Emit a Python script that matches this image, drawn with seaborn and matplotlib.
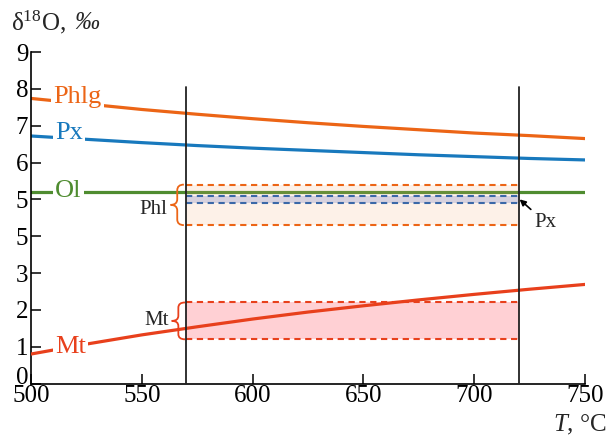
import numpy as np
import pandas as pd
import seaborn as sns
import matplotlib.pyplot as plt
import matplotlib.transforms as mtransforms
from matplotlib.path import Path
from matplotlib.patches import PathPatch

sns.set_style("ticks")
plt.rcParams['font.family'] = ['Liberation Serif', 'DejaVu Serif']
plt.rcParams['mathtext.fontset'] = 'custom'
plt.rcParams['mathtext.rm'] = 'Liberation Serif'
plt.rcParams['mathtext.it'] = 'Liberation Serif:italic'

# temperatures (°C) and delta18O (‰)
temps = [500, 525, 550, 575, 600, 625, 650, 675, 700, 725, 750]
phlg = [7.74, 7.59, 7.44, 7.31, 7.19, 7.08, 6.98, 6.89, 6.80, 6.73, 6.65]
px = [6.72, 6.63, 6.54, 6.46, 6.39, 6.33, 6.27, 6.21, 6.16, 6.11, 6.07]
ol = [5.2] * len(temps)
mt = [0.80, 1.07, 1.32, 1.54, 1.75, 1.94, 2.11, 2.27, 2.42, 2.56, 2.69]

t_range = [570, 720]
phl_band = [4.3, 5.4]
px_band = [4.9, 5.1]
mt_band = [1.2, 2.2]

ytick_vals = [0, 1, 2, 3, 4, 5, 6, 7, 8, 9]
ytick_labels = ['0', '1', '2', '3', '5', '5', '6', '7', '8', '9']
xtick_vals = [500, 550, 600, 650, 700, 750]

c_phlg = '#ec6516'
c_px = '#1879bd'
c_ol = '#4f8c30'
c_mt = '#e8401c'
c_pxband = '#3b68a8'

df = pd.DataFrame({'T': temps, 'Phlg': phlg, 'Px': px, 'Ol': ol, 'Mt': mt})

fig = plt.figure(figsize=(6.1, 4.36), dpi=100)
ax = fig.add_axes([0.0508, 0.1204, 0.9082, 0.7603])

# bands
ax.fill_between(t_range, phl_band[0], phl_band[1], color='#f5a66a', alpha=0.15, lw=0, zorder=3)
ax.fill_between(t_range, px_band[0], px_band[1], color='#5a6fc0', alpha=0.24, lw=0, zorder=3)
ax.fill_between(t_range, mt_band[0], mt_band[1], color='#ff8a95', alpha=0.4, lw=0, zorder=1)
for v in phl_band:
    ax.plot(t_range, [v, v], color=c_phlg, lw=1.5, ls=(0, (3, 2.2)), zorder=4)
for v in px_band:
    ax.plot(t_range, [v, v], color=c_pxband, lw=1.5, ls=(0, (3, 2.2)), zorder=4)
for v in mt_band:
    ax.plot(t_range, [v, v], color=c_mt, lw=1.5, ls=(0, (3, 2.2)), zorder=4)

sns.lineplot(data=df, x='T', y='Phlg', color=c_phlg, lw=2.3, ax=ax, zorder=2)
sns.lineplot(data=df, x='T', y='Px', color=c_px, lw=2.3, ax=ax, zorder=2)
sns.lineplot(data=df, x='T', y='Ol', color=c_ol, lw=2.3, ax=ax, zorder=2)
sns.lineplot(data=df, x='T', y='Mt', color=c_mt, lw=2.3, ax=ax, zorder=5)

for t in t_range:
    ax.plot([t, t], [0, 8.05], color='#222222', lw=1.3, zorder=6)

# series labels with white boxes that break the lines
lab_kw = dict(fontsize=19, va='center', ha='left', zorder=7,
              bbox=dict(facecolor='white', edgecolor='none', pad=1.5))
ax.text(510, 7.77, 'Phlg', color=c_phlg, **lab_kw)
ax.text(511, 6.8, 'Px', color=c_px, **lab_kw)
ax.text(511, 5.22, 'Ol', color=c_ol, **lab_kw)
ax.text(511, 0.98, 'Mt', color=c_mt, **lab_kw)


def brace(x_tip, x_end, y0, y1, color):
    ym = (y0 + y1) / 2
    xm = (x_tip + x_end) / 2
    h = (y1 - y0) * 0.14
    verts = [(x_end, y1), (xm, y1), (xm, y1 - h), (xm, ym + h),
             (xm, ym), (x_tip, ym), (xm, ym), (xm, ym - h),
             (xm, y0 + h), (xm, y0), (x_end, y0)]
    codes = [Path.MOVETO, Path.CURVE3, Path.CURVE3, Path.LINETO,
             Path.CURVE3, Path.CURVE3, Path.CURVE3, Path.CURVE3,
             Path.LINETO, Path.CURVE3, Path.CURVE3]
    ax.add_patch(PathPatch(Path(verts, codes), facecolor='none', edgecolor=color,
                           lw=1.3, clip_on=False, zorder=6))


brace(563, 569, phl_band[0], phl_band[1], c_phlg)
brace(563.5, 569.5, mt_band[0], mt_band[1], c_mt)
ax.text(561.5, 4.72, 'Phl', fontsize=15, ha='right', va='center')
ax.text(562, 1.72, 'Mt', fontsize=15, ha='right', va='center')
ax.annotate('Px', xy=(720.5, 5.0), xytext=(727, 4.38), fontsize=15,
            ha='left', va='center',
            arrowprops=dict(arrowstyle='-|>', color='black', lw=1.2,
                            mutation_scale=9, shrinkA=0, shrinkB=0))

ax.set_xlim(500, 750)
ax.set_ylim(0, 9)
ax.set_xticks(xtick_vals)
ax.set_yticks(ytick_vals)
ax.set_yticklabels(ytick_labels)
ax.tick_params(direction='in', length=7, width=1.1, labelsize=18, pad=2, colors='black')
ax.tick_params(axis='x', pad=1)
ax.set_xlabel('')
ax.set_ylabel('')
sns.despine(ax=ax)
for s in ['left', 'bottom']:
    ax.spines[s].set_linewidth(1.2)
    ax.spines[s].set_color('black')

# lift the "0" label a little so it clears "500", as in the original
zero_lab = ax.get_yticklabels()[0]
zero_lab.set_transform(zero_lab.get_transform() +
                       mtransforms.ScaledTranslation(0, 8 / 100, fig.dpi_scale_trans))

fig.text(0.018, 0.948, r'δ$^{18}$O,', fontsize=18, ha='left', va='center')
fig.text(0.122, 0.948, '‰', fontsize=18, style='italic', ha='left', va='center')
fig.text(0.995, 0.025, r'$\it{T}$, °C', fontsize=18, ha='right', va='center')

fig.savefig('out.png', dpi=100)
